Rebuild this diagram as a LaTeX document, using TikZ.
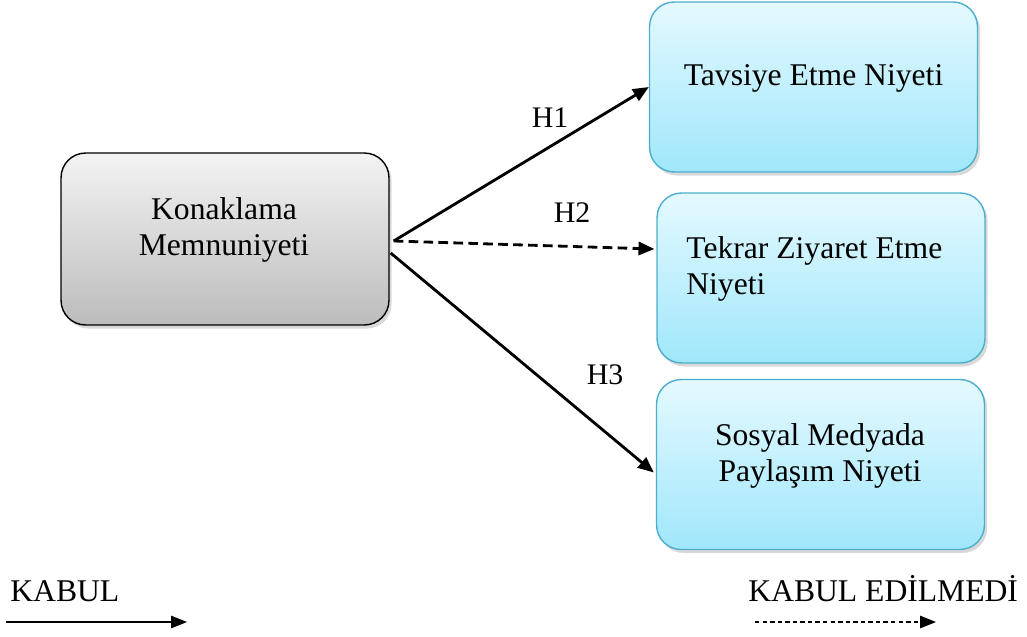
\documentclass[tikz,border=0pt]{standalone}
\usepackage{fontspec}
\setmainfont{Liberation Serif}
\usetikzlibrary{arrows.meta,calc,shadows}
\definecolor{kenar}{HTML}{4BAFCB}
\definecolor{maviust}{HTML}{E4F9FF}
\definecolor{mavialt}{HTML}{A0E7FB}
\definecolor{griust}{HTML}{F3F3F3}
\definecolor{grialt}{HTML}{BCBCBC}
\tikzset{yol/.style={-{Triangle[length=9pt,width=7.5pt]}, line width=1.6pt},
  yolkes/.style={yol, dash pattern=on 5.5pt off 3pt},
  kutu/.style={thick, rounded corners=14pt, minimum width=6.56cm, minimum height=3.4cm,
    drop shadow={opacity=0.3, shadow xshift=1.5pt, shadow yshift=-2pt}},
  gri/.style={kutu, draw=black, top color=griust, bottom color=grialt},
  mavi/.style={kutu, draw=kenar, top color=maviust, bottom color=mavialt},
  yazi/.style={font=\fontsize{18}{20}\selectfont, anchor=base, inner sep=0pt}}

\begin{document}
\begin{tikzpicture}[x=0.02cm, y=-0.02cm]
  \useasboundingbox (0,0) rectangle (1027,636);
  \node[gri, minimum height=3.44cm] (konak) at (225,239) {};
  \node[mavi] (tavsiye) at (813.5,87) {};
  \node[mavi] (tekrar) at (821,278) {};
  \node[mavi] (sosyal) at (820.5,464.5) {};
  % cok satirli yazilarda base = son satir
  \node[yazi, align=center] (konakt) at (224,255) {Konaklama\\Memnuniyeti};
  \node[yazi] (tavsiyet) at (813.5,85) {Tavsiye Etme Niyeti};
  \node[yazi, align=left, anchor=base west] (tekrart) at (686,294) {Tekrar Ziyaret Etme\\Niyeti};
  \node[yazi, align=center] (sosyalt) at (820,481) {Sosyal Medyada\\Paylaşım Niyeti};
  % hipotez oklari
  \coordinate (bas1) at ($(konak.east)+(4,2)$);
  \coordinate (bas3) at ($(konak.east)+(1,14)$);
  \draw[yol] (bas1) -- (tavsiye.west);
  \draw[yolkes] (bas1) -- ($(tekrar.west)+(-2,-29)$);
  \draw[yol] (bas3) -- ($(sosyal.west)+(-2,8)$);
  \node[yazi, font=\fontsize{17}{20}\selectfont] (h1) at (550,127) {H1};
  \node[yazi, font=\fontsize{17}{20}\selectfont] (h2) at (572,222) {H2};
  \node[yazi, font=\fontsize{17}{20}\selectfont] (h3) at (605,384) {H3};
  % gosterim
  \node[yazi, anchor=base west] (kabul) at (10,601) {KABUL};
  \node[yazi, anchor=base west] (red) at (748,601) {KABUL EDİLMEDİ};
  \coordinate (k1) at (6,622);
  \coordinate (k2) at (187,622);
  \coordinate (r1) at (755,622);
  \coordinate (r2) at (936,622);
  \draw[-{Triangle[length=9pt,width=7pt]}, line width=0.8pt] (k1) -- (k2);
  \draw[-{Triangle[length=9pt,width=7pt]}, line width=0.8pt, dash pattern=on 2.5pt off 1.8pt] (r1) -- (r2);
\end{tikzpicture}
\end{document}
